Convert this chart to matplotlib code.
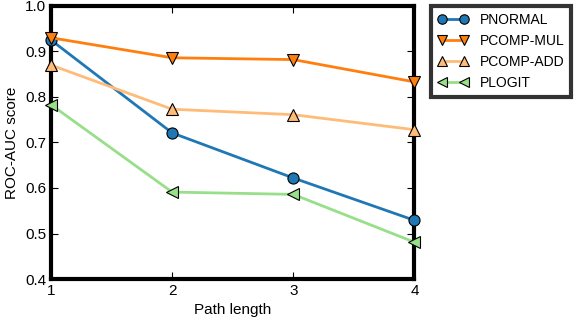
import matplotlib
matplotlib.use("Agg")
import matplotlib.pyplot as plt

# ── Data ────────────────────────────────────────────────
path_length = [1, 2, 3, 4]
pnormal     = [0.925, 0.721, 0.622, 0.529]
pcomp_mul   = [0.930, 0.886, 0.882, 0.833]
pcomp_add   = [0.870, 0.773, 0.761, 0.728]
plogit      = [0.783, 0.591, 0.586, 0.481]

series = [
    ("PNORMAL",    pnormal,   "#1f77b4", "o"),
    ("PCOMP-MUL",  pcomp_mul, "#ff7f0e", "v"),
    ("PCOMP-ADD",  pcomp_add, "#ffbb78", "^"),
    ("PLOGIT",     plogit,    "#98df8a", "<"),
]

plt.rcParams['font.family'] = ['Liberation Sans', 'DejaVu Sans']

fig = plt.figure(figsize=(5.76, 3.26), dpi=100)
ax = fig.add_axes([0.0885, 0.144, 0.631, 0.838])

for name, vals, color, marker in series:
    ax.plot(path_length, vals, color=color, marker=marker, lw=2,
            markersize=8, markeredgecolor='black', markeredgewidth=0.8,
            label=name, clip_on=False, zorder=3)

ax.set_xlim(1, 4)
ax.set_ylim(0.4, 1.0)
ax.set_xticks([1, 2, 3, 4])
ax.set_yticks([0.4, 0.5, 0.6, 0.7, 0.8, 0.9, 1.0])
ax.set_xlabel("Path length", fontsize=11)
ax.set_ylabel("ROC-AUC score", fontsize=11)
ax.tick_params(direction='in', top=True, right=True, length=5,
               width=0.8, labelsize=11)
for sp in ax.spines.values():
    sp.set_linewidth(3)

leg = ax.legend(loc='upper left', bbox_to_anchor=(1.045, 1.0),
                fancybox=False, fontsize=10, numpoints=2, markerscale=0.85,
                handlelength=2.2, handletextpad=0.8, borderpad=0.5,
                borderaxespad=0.0, labelspacing=0.5)
leg.get_frame().set_edgecolor('black')
leg.get_frame().set_linewidth(3)

fig.savefig("out.png", dpi=100)
